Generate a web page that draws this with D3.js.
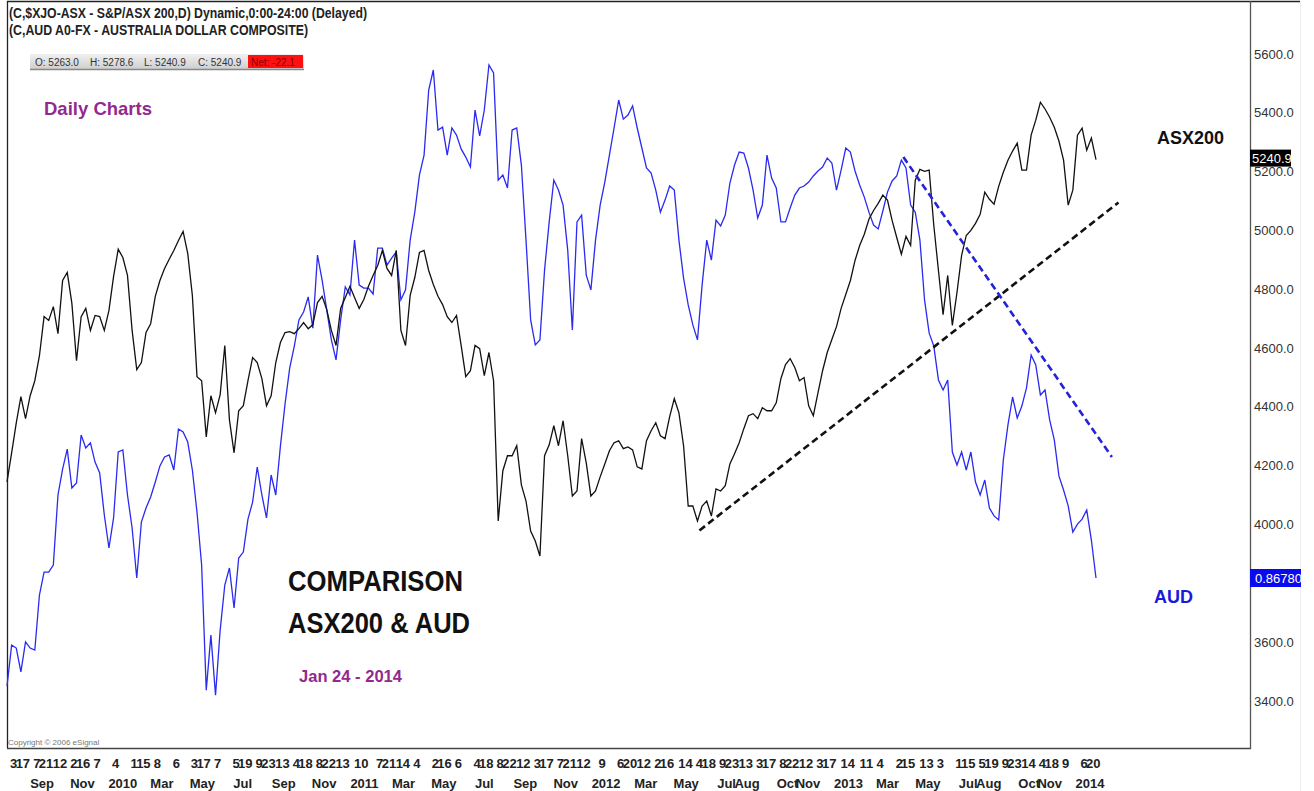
<!DOCTYPE html>
<meta charset="utf-8">
<style>
body { margin: 0; background: #fff; }
svg text { font-family: "Liberation Sans Narrow", "Liberation Sans", Arial, sans-serif; }
</style>
<body>
<script src="https://d3js.org/d3.v7.min.js"></script>
<script>

var width = 1314, height = 791;

// weekly closes, first week ending 2009-07-24, last 2014-01-24
var firstWeek = "2009-07-24";

var asx200 = [
  4145, 4244, 4346, 4435, 4360, 4438, 4489, 4574, 4707, 4694,
  4741, 4649, 4830, 4857, 4752, 4557, 4707, 4735, 4660, 4711,
  4707, 4660, 4728, 4844, 4936, 4908, 4847, 4660, 4527, 4551,
  4653, 4683, 4776, 4830, 4871, 4902, 4932, 4966, 4997, 4922,
  4779, 4503, 4489, 4298, 4438, 4380, 4442, 4609, 4356, 4244,
  4387, 4404, 4489, 4568, 4551, 4496, 4404, 4438, 4551, 4619,
  4653, 4656, 4649, 4666, 4687, 4666, 4680, 4755, 4776, 4731,
  4660, 4609, 4735, 4772, 4810, 4772, 4735, 4765, 4810, 4847,
  4881, 4932, 4871, 4847, 4932, 4660, 4609, 4779, 4840, 4925,
  4932, 4864, 4816, 4776, 4748, 4707, 4687, 4711, 4609, 4503,
  4523, 4609, 4598, 4506, 4585, 4489, 4012, 4183, 4234, 4234,
  4268, 4135, 4080, 3978, 3944, 3893, 4234, 4271, 4336, 4268,
  4353, 4234, 4097, 4114, 4292, 4210, 4097, 4114, 4162, 4206,
  4251, 4278, 4285, 4258, 4264, 4254, 4196, 4189, 4285, 4319,
  4346, 4302, 4292, 4367, 4428, 4380, 4268, 4063, 4063, 4012,
  4063, 4080, 4029, 4121, 4114, 4132, 4206, 4241, 4278, 4326,
  4370, 4377, 4360, 4397, 4387, 4387, 4414, 4496, 4544, 4564,
  4534, 4489, 4500, 4404, 4370, 4448, 4523, 4585, 4629, 4673,
  4735, 4782, 4830, 4898, 4949, 4987, 5038, 5068, 5092, 5120,
  5103, 5034, 4976, 4919, 4980, 4949, 5171, 5208, 5201, 5205,
  5017, 4864, 4714, 4847, 4677, 4789, 4915, 4983, 5000, 5024,
  5055, 5130, 5106, 5089, 5150, 5198, 5239, 5270, 5297, 5205,
  5205, 5324, 5375, 5436, 5413, 5385, 5351, 5304, 5239, 5086,
  5137, 5324, 5348, 5273, 5314, 5240.9
];

var aud = [
  0.8203, 0.8383, 0.8370, 0.8265, 0.8397, 0.8370, 0.8361, 0.8603, 0.8704, 0.8704,
  0.8735, 0.9043, 0.9157, 0.9245, 0.9074, 0.9096, 0.9307, 0.9250, 0.9272, 0.9188,
  0.9140, 0.8955, 0.8810, 0.8942, 0.9232, 0.9241, 0.9043, 0.8898, 0.8678, 0.8924,
  0.8986, 0.9034, 0.9100, 0.9171, 0.9210, 0.9219, 0.9153, 0.9333, 0.9320, 0.9276,
  0.9153, 0.8968, 0.8735, 0.8185, 0.8427, 0.8163, 0.8449, 0.8647, 0.8722, 0.8546,
  0.8766, 0.8792, 0.8937, 0.9012, 0.9166, 0.9043, 0.8942, 0.9131, 0.9043, 0.9258,
  0.9443, 0.9601, 0.9698, 0.9813, 0.9848, 0.9914, 0.9777, 1.0098, 0.9988, 0.9857,
  0.9725, 0.9637, 0.9813, 0.9958, 0.9923, 1.0164, 0.9966, 0.9953, 0.9953, 0.9927,
  1.0129, 1.0129, 1.0054, 1.0085, 1.0112, 0.9901, 0.9945, 1.0164, 1.0287, 1.0450,
  1.0538, 1.0824, 1.0912, 1.0648, 1.0661, 1.0538, 1.0657, 1.0626, 1.0565, 1.0529,
  1.0485, 1.0736, 1.0622, 1.0736, 1.0934, 1.0899, 1.0428, 1.0450, 1.0393, 1.0648,
  1.0657, 1.0494, 1.0164, 0.9813, 0.9703, 0.9725, 1.0032, 1.0244, 1.0428, 1.0384,
  1.0318, 1.0120, 0.9769, 1.0244, 1.0274, 1.0010, 0.9945, 1.0164, 1.0318, 1.0419,
  1.0538, 1.0657, 1.0780, 1.0696, 1.0714, 1.0754, 1.0657, 1.0569, 1.0481, 1.0459,
  1.0384, 1.0287, 1.0340, 1.0402, 1.0384, 1.0164, 0.9997, 0.9879, 0.9791, 0.9725,
  0.9966, 1.0164, 1.0076, 1.0252, 1.0226, 1.0274, 1.0415, 1.0494, 1.0551, 1.0547,
  1.0481, 1.0384, 1.0261, 1.0318, 1.0538, 1.0437, 1.0393, 1.0244, 1.0244, 1.0305,
  1.0362, 1.0393, 1.0402, 1.0419, 1.0446, 1.0468, 1.0485, 1.0525, 1.0503, 1.0384,
  1.0472, 1.0569, 1.0551, 1.0468, 1.0406, 1.0353, 1.0287, 1.0230, 1.0213, 1.0292,
  1.0375, 1.0424, 1.0446, 1.0516, 1.0481, 1.0318, 1.0287, 1.0164, 0.9901, 0.9755,
  0.9698, 0.9549, 0.9505, 0.9549, 0.9232, 0.9175, 0.9232, 0.9153, 0.9232, 0.9100,
  0.9043, 0.9109, 0.8986, 0.8951, 0.8933, 0.9197, 0.9351, 0.9474, 0.9382, 0.9434,
  0.9514, 0.9659, 0.9615, 0.9483, 0.9505, 0.9373, 0.9285, 0.9127, 0.9065, 0.8995,
  0.8880, 0.8915, 0.8937, 0.8977, 0.8845, 0.8678
];

// trend lines drawn on the chart
var asxTrendDates = ["2012-06-04", "2014-02-27"];
var asxTrendValues = [3980, 5095];
var audTrendDates = ["2013-04-08", "2014-02-17"];
var audTrendValues = [1.0529, 0.9210];

// 3800.0 sits under the AUD last-value box, so it is not shown
var priceTicks = [3400, 3600, 4000, 4200, 4400, 4600, 4800, 5000, 5200, 5400, 5600];

var dayTicks = [
  "2009-08-03","2009-08-17","2009-09-07","2009-09-21","2009-10-12","2009-11-02","2009-11-16","2009-12-07",
  "2010-01-04","2010-02-01","2010-02-15","2010-03-08","2010-04-06","2010-05-03","2010-05-17","2010-06-07",
  "2010-07-05","2010-07-19","2010-08-09","2010-08-23","2010-09-13","2010-10-04","2010-10-18","2010-11-08",
  "2010-11-22","2010-12-13","2011-01-10","2011-02-07","2011-02-21","2011-03-14","2011-04-04","2011-05-02",
  "2011-05-16","2011-06-06","2011-07-04","2011-07-18","2011-08-08","2011-08-22","2011-09-12","2011-10-03",
  "2011-10-17","2011-11-07","2011-11-21","2011-12-12","2012-01-09","2012-02-06","2012-02-20","2012-03-12",
  "2012-04-02","2012-04-16","2012-05-14","2012-06-04","2012-06-18","2012-07-09","2012-07-23","2012-08-13",
  "2012-09-03","2012-09-17","2012-10-08","2012-10-22","2012-11-12","2012-12-03","2012-12-17","2013-01-14",
  "2013-02-11","2013-03-04","2013-04-02","2013-04-15","2013-05-13","2013-06-03","2013-07-01","2013-07-15",
  "2013-08-05","2013-08-19","2013-09-09","2013-09-23","2013-10-14","2013-11-04","2013-11-18","2013-12-09",
  "2014-01-06","2014-01-20"
];

var monthKeys = ["2009-09","2009-11","2010-01","2010-03","2010-05","2010-07","2010-09","2010-11",
  "2011-01","2011-03","2011-05","2011-07","2011-09","2011-11","2012-01","2012-03","2012-05",
  "2012-07","2012-08","2012-10","2012-11","2013-01","2013-03","2013-05","2013-07","2013-08",
  "2013-10","2013-11","2014-01"];
var monthNames = ["Sep","Nov","2010","Mar","May","Jul","Sep","Nov",
  "2011","Mar","May","Jul","Sep","Nov","2012","Mar","May",
  "Jul","Aug","Oct","Nov","2013","Mar","May","Jul","Aug",
  "Oct","Nov","2014"];

var parse = d3.timeParse("%Y-%m-%d");
var start = parse(firstWeek);
var weeks = d3.range(asx200.length).map(i => d3.timeDay.offset(start, 7 * i));

var x = d3.scaleTime()
    .domain([start, weeks[weeks.length - 1]])
    .range([7, 1096]);

var yAsx = d3.scaleLinear()
    .domain([5600, 3400])
    .range([54, 701]);

var yAud = d3.scaleLinear()
    .domain([1.10, 0.8678])
    .range([50, 578]);

var svg = d3.select("body").append("svg")
    .attr("width", width)
    .attr("height", height);

svg.append("rect").attr("width", width).attr("height", height).attr("fill", "#fff");

// frame
svg.append("line").attr("x1", 7).attr("x2", 1300).attr("y1", 1.5).attr("y2", 1.5)
    .attr("stroke", "#222").attr("stroke-width", 1.5);
svg.append("line").attr("x1", 7.5).attr("x2", 7.5).attr("y1", 1).attr("y2", 748)
    .attr("stroke", "#222").attr("stroke-width", 1.3);
svg.append("line").attr("x1", 7).attr("x2", 1251).attr("y1", 748.5).attr("y2", 748.5)
    .attr("stroke", "#444").attr("stroke-width", 1.3);
svg.append("line").attr("x1", 1250.5).attr("x2", 1250.5).attr("y1", 1).attr("y2", 749)
    .attr("stroke", "#555").attr("stroke-width", 1.3);
svg.append("line").attr("x1", 1300.5).attr("x2", 1300.5).attr("y1", 1).attr("y2", 791)
    .attr("stroke", "#eee").attr("stroke-width", 1);

// header
svg.append("text").attr("x", 9).attr("y", 18)
    .attr("font-size", 14).attr("font-weight", "bold").attr("fill", "#222")
    .attr("textLength", 358).attr("lengthAdjust", "spacingAndGlyphs")
    .text("(C,$XJO-ASX - S&P/ASX 200,D) Dynamic,0:00-24:00 (Delayed)");
svg.append("text").attr("x", 9).attr("y", 35)
    .attr("font-size", 14).attr("font-weight", "bold").attr("fill", "#222")
    .attr("textLength", 299).attr("lengthAdjust", "spacingAndGlyphs")
    .text("(C,AUD A0-FX - AUSTRALIA DOLLAR COMPOSITE)");

// OHLC strip
var grad = svg.append("defs").append("linearGradient").attr("id", "strip")
    .attr("x1", 0).attr("x2", 0).attr("y1", 0).attr("y2", 1);
grad.append("stop").attr("offset", "0%").attr("stop-color", "#f0f0f0");
grad.append("stop").attr("offset", "100%").attr("stop-color", "#cfcfcf");
svg.append("rect").attr("x", 30).attr("y", 54).attr("width", 274).attr("height", 15)
    .attr("fill", "url(#strip)");
svg.append("line").attr("x1", 30).attr("x2", 304).attr("y1", 69.5).attr("y2", 69.5)
    .attr("stroke", "#888").attr("stroke-width", 1.5);
svg.append("rect").attr("x", 248).attr("y", 55).attr("width", 55).attr("height", 13)
    .attr("fill", "#ff1010");
var stripText = [["O: 5263.0", 35], ["H: 5278.6", 90], ["L: 5240.9", 144], ["C: 5240.9", 198], ["Net: -22.1", 251]];
svg.selectAll(".strip").data(stripText).enter().append("text")
    .attr("x", d => d[1]).attr("y", 65.5)
    .attr("font-size", 10).attr("fill", (d, i) => i === 4 ? "#8a0000" : "#333")
    .text(d => d[0]);

// right price axis
svg.selectAll(".tick-label").data(priceTicks).enter().append("text")
    .attr("x", 1254).attr("y", d => yAsx(d) + 4.5)
    .attr("font-size", 13).attr("fill", "#333")
    .text(d3.format(".1f"));

// bottom date axis
svg.selectAll(".day").data(dayTicks).enter().append("text")
    .attr("x", d => x(parse(d))).attr("y", 768)
    .attr("text-anchor", "middle").attr("font-size", 13).attr("font-weight", "bold").attr("fill", "#222")
    .text(d => +d.slice(8));
svg.selectAll(".month").data(monthKeys).enter().append("text")
    .attr("x", d => x(parse(d + "-15"))).attr("y", 788)
    .attr("text-anchor", "middle").attr("font-size", 13).attr("font-weight", "bold").attr("fill", "#222")
    .text((d, i) => monthNames[i]);

// series
var audLine = d3.line().x((d, i) => x(weeks[i])).y(d => yAud(d));
var asxLine = d3.line().x((d, i) => x(weeks[i])).y(d => yAsx(d));

svg.append("path").datum(aud)
    .attr("fill", "none").attr("stroke", "#2a2af0").attr("stroke-width", 1.3)
    .attr("d", audLine);
svg.append("path").datum(asx200)
    .attr("fill", "none").attr("stroke", "#111").attr("stroke-width", 1.3)
    .attr("d", asxLine);

// dashed trend lines
svg.append("path")
    .datum(asxTrendDates.map((d, i) => [x(parse(d)), yAsx(asxTrendValues[i])]))
    .attr("fill", "none").attr("stroke", "#111").attr("stroke-width", 2.6)
    .attr("stroke-dasharray", "7,4").attr("d", d3.line());
svg.append("path")
    .datum(audTrendDates.map((d, i) => [x(parse(d)), yAud(audTrendValues[i])]))
    .attr("fill", "none").attr("stroke", "#2323d8").attr("stroke-width", 2.6)
    .attr("stroke-dasharray", "7,4").attr("d", d3.line());

// last value markers
var lastAsx = asx200[asx200.length - 1], lastAud = aud[aud.length - 1];
svg.append("rect").attr("x", 1250).attr("y", yAsx(lastAsx) - 10).attr("width", 41).attr("height", 17)
    .attr("fill", "#000");
svg.append("text").attr("x", 1252).attr("y", yAsx(lastAsx) + 3.5)
    .attr("font-size", 13).attr("fill", "#fff").text(d3.format(".1f")(lastAsx));
svg.append("rect").attr("x", 1250).attr("y", yAud(lastAud) - 9).attr("width", 51).attr("height", 18)
    .attr("fill", "#0a0aee");
svg.append("text").attr("x", 1255).attr("y", yAud(lastAud) + 4.5)
    .attr("font-size", 13).attr("fill", "#fff").text(d3.format(".5f")(lastAud));

// annotations
svg.append("text").attr("x", 44).attr("y", 115)
    .attr("font-size", 19).attr("font-weight", "bold").attr("fill", "#93298f")
    .attr("textLength", 108).attr("lengthAdjust", "spacingAndGlyphs")
    .text("Daily Charts");
svg.append("text").attr("x", 1157).attr("y", 144)
    .attr("font-size", 19).attr("font-weight", "bold").attr("fill", "#111")
    .attr("textLength", 67).attr("lengthAdjust", "spacingAndGlyphs")
    .text("ASX200");
svg.append("text").attr("x", 1154).attr("y", 603)
    .attr("font-size", 19).attr("font-weight", "bold").attr("fill", "#1a1ad8")
    .attr("textLength", 39).attr("lengthAdjust", "spacingAndGlyphs")
    .text("AUD");
svg.append("text").attr("x", 288).attr("y", 591)
    .attr("font-size", 29).attr("font-weight", "bold").attr("fill", "#111")
    .attr("textLength", 175).attr("lengthAdjust", "spacingAndGlyphs")
    .text("COMPARISON");
svg.append("text").attr("x", 288).attr("y", 633)
    .attr("font-size", 29).attr("font-weight", "bold").attr("fill", "#111")
    .attr("textLength", 182).attr("lengthAdjust", "spacingAndGlyphs")
    .text("ASX200 & AUD");
svg.append("text").attr("x", 299).attr("y", 682)
    .attr("font-size", 16).attr("font-weight", "bold").attr("fill", "#93298f")
    .attr("textLength", 103).attr("lengthAdjust", "spacingAndGlyphs")
    .text("Jan 24 - 2014");
svg.append("text").attr("x", 8).attr("y", 745)
    .attr("font-size", 8).attr("fill", "#777")
    .text("Copyright © 2006 eSignal");

</script>
